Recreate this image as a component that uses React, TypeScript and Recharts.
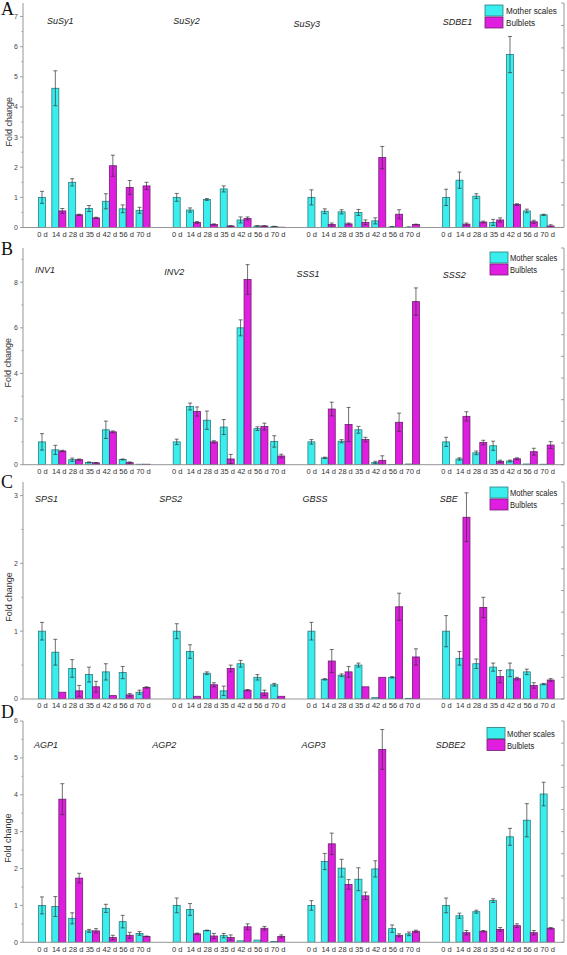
import React from 'react';
import { BarChart, Bar, XAxis, YAxis, ReferenceLine } from 'recharts';

// ---------------- DATA ----------------
const TIMES = ['0 d', '14 d', '28 d', '35 d', '42 d', '56 d', '70 d'];
const SERIES_NAMES = ['Mother scales', 'Bulblets'];

const A_GENES = ['SuSy1', 'SuSy2', 'SuSy3', 'SDBE1'];
const A_MOTHER = [
  [1.0, 4.62, 1.5, 0.63, 0.87, 0.62, 0.57],
  [1.0, 0.58, 0.93, 1.28, 0.25, 0.05, 0.03],
  [1.0, 0.54, 0.52, 0.5, 0.22, 0.02, 0.01],
  [1.0, 1.57, 1.04, 0.17, 5.74, 0.55, 0.42],
];
const A_MOTHER_ERR = [
  [0.2, 0.58, 0.12, 0.1, 0.25, 0.13, 0.1],
  [0.13, 0.07, 0.03, 0.1, 0.1, 0.01, 0.01],
  [0.25, 0.08, 0.07, 0.1, 0.1, 0.01, 0.01],
  [0.27, 0.27, 0.08, 0.1, 0.6, 0.06, 0.02],
];
const A_BULB = [
  [null, 0.55, 0.42, 0.32, 2.05, 1.33, 1.38],
  [null, 0.17, 0.1, 0.05, 0.3, 0.05, 0.01],
  [null, 0.1, 0.12, 0.17, 2.32, 0.44, 0.1],
  [null, 0.11, 0.18, 0.25, 0.76, 0.19, 0.05],
];
const A_BULB_ERR = [
  [0, 0.08, 0.02, 0.02, 0.35, 0.23, 0.12],
  [0, 0.03, 0.02, 0.01, 0.05, 0.01, 0],
  [0, 0.05, 0.03, 0.08, 0.37, 0.15, 0.01],
  [0, 0.04, 0.03, 0.07, 0.03, 0.05, 0.04],
];

const B_GENES = ['INV1', 'INV2', 'SSS1', 'SSS2'];
const B_MOTHER = [
  [1.0, 0.65, 0.22, 0.1, 1.53, 0.23, 0.02],
  [1.0, 2.55, 1.95, 1.65, 6.0, 1.58, 1.02],
  [1.0, 0.3, 1.03, 1.53, 0.1, 0.01, 0.03],
  [1.0, 0.25, 0.52, 0.83, 0.16, 0.03, 0.02],
];
const B_MOTHER_ERR = [
  [0.36, 0.2, 0.07, 0.02, 0.38, 0.02, 0],
  [0.12, 0.15, 0.4, 0.33, 0.35, 0.08, 0.25],
  [0.1, 0.03, 0.07, 0.15, 0.05, 0, 0],
  [0.2, 0.05, 0.08, 0.2, 0.04, 0, 0],
];
const B_BULB = [
  [null, 0.6, 0.22, 0.08, 1.44, 0.09, 0.02],
  [null, 2.33, 1.0, 0.25, 8.12, 1.67, 0.38],
  [null, 2.44, 1.76, 1.1, 0.19, 1.86, 7.15],
  [null, 2.12, 0.97, 0.15, 0.26, 0.57, 0.86],
];
const B_BULB_ERR = [
  [0, 0.03, 0.03, 0.01, 0.04, 0.03, 0],
  [0, 0.2, 0.05, 0.2, 0.65, 0.15, 0.08],
  [0, 0.3, 0.75, 0.1, 0.2, 0.4, 0.6],
  [0, 0.2, 0.1, 0.05, 0.04, 0.15, 0.15],
];

const C_GENES = ['SPS1', 'SPS2', 'GBSS', 'SBE'];
const C_MOTHER = [
  [1.0, 0.69, 0.45, 0.36, 0.4, 0.39, 0.1],
  [1.0, 0.7, 0.38, 0.12, 0.52, 0.32, 0.21],
  [1.0, 0.29, 0.35, 0.5, 0.02, 0.32, 0.01],
  [1.0, 0.6, 0.52, 0.47, 0.43, 0.4, 0.22],
];
const C_MOTHER_ERR = [
  [0.13, 0.19, 0.13, 0.11, 0.12, 0.09, 0.03],
  [0.11, 0.1, 0.02, 0.07, 0.05, 0.04, 0.02],
  [0.13, 0.01, 0.02, 0.03, 0, 0.01, 0],
  [0.23, 0.1, 0.07, 0.06, 0.1, 0.04, 0.01],
];
const C_BULB = [
  [null, 0.1, 0.12, 0.18, 0.05, 0.06, 0.17],
  [null, 0.04, 0.21, 0.45, 0.13, 0.09, 0.04],
  [null, 0.56, 0.4, 0.18, 0.32, 1.36, 0.62],
  [null, 2.68, 1.35, 0.33, 0.3, 0.2, 0.28],
];
const C_BULB_ERR = [
  [0, 0, 0.08, 0.08, 0, 0.02, 0.01],
  [0, 0, 0.03, 0.05, 0.01, 0.04, 0],
  [0, 0.17, 0.08, 0, 0, 0.2, 0.12],
  [0, 0.36, 0.15, 0.09, 0.02, 0.04, 0.02],
];

const D_GENES = ['AGP1', 'AGP2', 'AGP3', 'SDBE2'];
const D_MOTHER = [
  [1.0, 0.97, 0.65, 0.31, 0.92, 0.56, 0.24],
  [1.0, 0.89, 0.32, 0.18, 0.04, 0.06, 0.02],
  [1.0, 2.19, 2.01, 1.71, 1.99, 0.37, 0.23],
  [1.0, 0.72, 0.83, 1.13, 2.86, 3.31, 4.02],
];
const D_MOTHER_ERR = [
  [0.23, 0.27, 0.15, 0.04, 0.11, 0.17, 0.05],
  [0.2, 0.16, 0.01, 0.06, 0, 0, 0],
  [0.13, 0.22, 0.24, 0.31, 0.22, 0.1, 0.05],
  [0.2, 0.07, 0.04, 0.05, 0.23, 0.45, 0.32],
];
const D_BULB = [
  [null, 3.88, 1.74, 0.31, 0.13, 0.19, 0.16],
  [null, 0.23, 0.17, 0.13, 0.42, 0.38, 0.16],
  [null, 2.67, 1.57, 1.26, 5.23, 0.19, 0.3],
  [null, 0.26, 0.3, 0.35, 0.45, 0.26, 0.38],
];
const D_BULB_ERR = [
  [0, 0.42, 0.13, 0.06, 0.06, 0.08, 0.01],
  [0, 0.02, 0.07, 0.07, 0.08, 0.05, 0.04],
  [0, 0.29, 0.13, 0.1, 0.54, 0.04, 0.03],
  [0, 0.06, 0.02, 0.05, 0.05, 0.06, 0.02],
];

// ---------------- STYLE / LAYOUT ----------------
const W = 567;
const CYAN = '#3beeee';
const CYAN_STROKE = '#2a7c80';
const MAG = '#e01ee0';
const MAG_STROKE = '#6e1f6e';
const FRAME = '#8a8a8a';
const SANS = '"Liberation Sans", Arial, sans-serif';
const SERIF = '"Liberation Serif", "Times New Roman", serif';
const MARGIN_TOP = 3;
const XAXIS_H = 15;

type PanelCfg = {
  letter: string;
  genes: string[];
  mother: number[][];
  motherErr: number[][];
  bulb: (number | null)[][];
  bulbErr: number[][];
  frameTop: number;
  axisY: number;
  max: number;
  majors: number[];
  minors: number[];
  letterY: number;
  legend: { x: number; y: number; tx: number; sx: number };
  labelOff: [number, number][];
};

const PANELS: PanelCfg[] = [
  {
    letter: 'A', genes: A_GENES, mother: A_MOTHER, motherErr: A_MOTHER_ERR, bulb: A_BULB, bulbErr: A_BULB_ERR,
    frameTop: 3, axisY: 227.5, max: 7.45,
    majors: [0, 1, 2, 3, 4, 5, 6, 7], minors: [0.5, 1.5, 2.5, 3.5, 4.5, 5.5, 6.5],
    letterY: 15, legend: { x: 485, y: 5, tx: 506, sx: 0.86 },
    labelOff: [[4.6, 20.5], [-3.9, 21], [-18.3, 23.5], [-3.8, 21.5]],
  },
  {
    letter: 'B', genes: B_GENES, mother: B_MOTHER, motherErr: B_MOTHER_ERR, bulb: B_BULB, bulbErr: B_BULB_ERR,
    frameTop: 248.3, axisY: 465, max: 9.5,
    majors: [0, 2, 4, 6, 8], minors: [1, 3, 5, 7, 9],
    letterY: 255, legend: { x: 490, y: 252, tx: 510, sx: 0.8 },
    labelOff: [[-7.4, 25], [-12.9, 26.7], [-15.3, 28.7], [-3.8, 30]],
  },
  {
    letter: 'C', genes: C_GENES, mother: C_MOTHER, motherErr: C_MOTHER_ERR, bulb: C_BULB, bulbErr: C_BULB_ERR,
    frameTop: 482.3, axisY: 699.3, max: 3.2,
    majors: [0, 1, 2, 3], minors: [0.5, 1.5, 2.5],
    letterY: 488, legend: { x: 490, y: 487, tx: 510, sx: 0.8 },
    labelOff: [[-7.4, 20], [-17.9, 20], [-9.3, 20], [-6.8, 20]],
  },
  {
    letter: 'D', genes: D_GENES, mother: D_MOTHER, motherErr: D_MOTHER_ERR, bulb: D_BULB, bulbErr: D_BULB_ERR,
    frameTop: 720.7, axisY: 942, max: 6,
    majors: [0, 1, 2, 3, 4, 5, 6], minors: [0.5, 1.5, 2.5, 3.5, 4.5, 5.5],
    letterY: 718, legend: { x: 487, y: 727.5, tx: 507, sx: 0.81 },
    labelOff: [[-8.4, 27], [-24.9, 27], [-10.3, 27], [-10.8, 27]],
  },
];

function buildRows(p: PanelCfg) {
  const rows: any[] = [];
  p.genes.forEach((g, gi) => {
    TIMES.forEach((t, ti) => {
      rows.push({
        key: `${g}|${t}`,
        m: p.mother[gi][ti],
        me: p.motherErr[gi][ti],
        b: p.bulb[gi][ti],
        be: p.bulbErr[gi][ti],
      });
    });
    if (gi < p.genes.length - 1) rows.push({ key: `gap${gi}`, m: null, b: null, me: 0, be: 0 });
  });
  return rows;
}

function BarWithErr(props: any) {
  const { x, y, width, height, payload, fill, stroke, valKey, errKey, centerAlone } = props;
  if (!payload) return null;
  const v = payload[valKey];
  if (v == null || !Number.isFinite(height) || !Number.isFinite(y)) return null;
  const alone = centerAlone && payload.b == null;
  const bx = alone ? x + width / 2 : x;
  const e = payload[errKey] || 0;
  const k = v > 0 ? height / v : 0;
  const cx = bx + width / 2;
  const top = y - e * k;
  const bot = y + e * k;
  return (
    <g>
      <rect x={bx} y={y} width={width} height={Math.max(height, 0)} fill={fill} stroke={stroke} strokeWidth={0.8} />
      {e > 0 && k > 0 && (
        <g stroke="#333" strokeWidth={0.7}>
          <line x1={cx} x2={cx} y1={top} y2={bot} />
          <line x1={cx - 2} x2={cx + 2} y1={top} y2={top} />
          <line x1={cx - 2} x2={cx + 2} y1={bot} y2={bot} />
        </g>
      )}
    </g>
  );
}

const makeYTick = (majors: number[]) => (props: any) => {
  const { x, y, payload } = props;
  const v = payload.value;
  const isMajor = majors.some((m) => Math.abs(m - v) < 1e-6);
  const ax = x + 5;
  return (
    <g>
      <line x1={ax - (isMajor ? 3 : 1.6)} x2={ax} y1={y} y2={y} stroke={FRAME} strokeWidth={0.8} />
      {isMajor && (
        <text x={x} y={y} dy="0.35em" textAnchor="end" fontSize={7} fill="#444" fontFamily={SANS}>
          {v}
        </text>
      )}
    </g>
  );
};

function FoldLabel(props: any) {
  const vb = props.viewBox || {};
  const cx = vb.x + 0.5;
  const cy = vb.y + vb.height / 2 + 6.5;
  return (
    <text
      x={cx}
      y={cy}
      transform={`rotate(-90, ${cx}, ${cy})`}
      textAnchor="middle"
      dominantBaseline="central"
      fontSize={9}
      fill="#333"
      fontFamily={SANS}
    >
      Fold change
    </text>
  );
}

function GeneLabel(props: any) {
  const vb = props.viewBox || {};
  return (
    <text
      x={vb.x + props.dx0}
      y={vb.y + props.dy0}
      fontSize={9}
      fontStyle="italic"
      fill="#222"
      fontFamily={SANS}
    >
      {props.text}
    </text>
  );
}

function Panel({ p }: { p: PanelCfg }) {
  const rows = buildRows(p);
  const plotH = p.axisY - p.frameTop;
  const height = MARGIN_TOP + plotH + XAXIS_H;
  const ticks = [...p.majors, ...p.minors].sort((a, b) => a - b);
  const rightTicks = [0, 1, 2, 3, 4, 5, 6, 7, 8, 9, 10];
  return (
    <div style={{ position: 'absolute', left: 0, top: p.frameTop - MARGIN_TOP, width: W, height }}>
      <BarChart
        width={W}
        height={height}
        data={rows}
        margin={{ top: MARGIN_TOP, right: 3, left: 8, bottom: 0 }}
        barGap={0}
        barSize={7}
      >
        <XAxis
          dataKey="key"
          type="category"
          interval={0}
          height={XAXIS_H}
          padding={{ left: 11, right: 8 }}
          tickLine={false}
          tickSize={0}
          tickMargin={4}
          axisLine={{ stroke: FRAME, strokeWidth: 0.9 }}
          tick={{ fontSize: 7.5, fill: '#333', fontFamily: SANS }}
          tickFormatter={(k: string) => (k.includes('|') ? k.split('|')[1] : '')}
        />
        <XAxis
          xAxisId="t"
          dataKey="key"
          orientation="top"
          height={0}
          padding={{ left: 11, right: 8 }}
          tick={false}
          tickLine={false}
          axisLine={{ stroke: FRAME, strokeWidth: 0.9 }}
        />
        <YAxis
          domain={[0, p.max]}
          ticks={ticks}
          interval={0}
          allowDataOverflow
          width={15}
          tickSize={3}
          tickMargin={2}
          tickLine={false}
          axisLine={{ stroke: FRAME, strokeWidth: 0.9 }}
          tick={makeYTick(p.majors)}
          label={<FoldLabel />}
        />
        <YAxis
          yAxisId="r"
          orientation="right"
          domain={[0, 10]}
          ticks={rightTicks}
          interval={0}
          allowDataOverflow
          width={1}
          mirror
          tickSize={3}
          tickLine={{ stroke: FRAME, strokeWidth: 0.8 }}
          axisLine={{ stroke: FRAME, strokeWidth: 0.9 }}
          tickFormatter={() => ''}
        />
        {p.genes.map((g, gi) => (
          <ReferenceLine
            key={g}
            x={`${g}|0 d`}
            strokeOpacity={0}
            label={<GeneLabel text={g} dx0={p.labelOff[gi][0]} dy0={p.labelOff[gi][1]} />}
          />
        ))}
        <Bar
          dataKey="m"
          name={SERIES_NAMES[0]}
          fill={CYAN}
          stroke={CYAN_STROKE}
          isAnimationActive={false}
          shape={(sp: any) => <BarWithErr {...sp} valKey="m" errKey="me" centerAlone />}
        />
        <Bar
          dataKey="b"
          name={SERIES_NAMES[1]}
          fill={MAG}
          stroke={MAG_STROKE}
          isAnimationActive={false}
          shape={(sp: any) => <BarWithErr {...sp} valKey="b" errKey="be" />}
        />
      </BarChart>
    </div>
  );
}

function Overlay() {
  const colors = [
    [CYAN, CYAN_STROKE],
    [MAG, MAG_STROKE],
  ];
  return (
    <svg width={W} height={955} style={{ position: 'absolute', left: 0, top: 0, pointerEvents: 'none' }}>
      {PANELS.map((p) => (
        <g key={p.letter}>
          <text x={1} y={p.letterY} fontSize={18} fontFamily={SERIF} fill="#111">
            {p.letter}
          </text>
          {SERIES_NAMES.map((n, i) => (
            <g key={n}>
              <rect
                x={p.legend.x}
                y={p.legend.y + i * 12}
                width={18}
                height={11}
                fill={colors[i][0]}
                stroke={colors[i][1]}
                strokeWidth={0.8}
              />
              <text
                transform={`translate(${p.legend.tx}, ${p.legend.y + i * 12 + 9.3}) scale(${p.legend.sx}, 1)`}
                x={0}
                y={0}
                fontSize={9.5}
                fontFamily={SANS}
                fill="#222"
              >
                {n}
              </text>
            </g>
          ))}
        </g>
      ))}
    </svg>
  );
}

export default function App() {
  return (
    <div
      style={{
        position: 'absolute',
        left: 0,
        top: 0,
        width: W,
        height: 955,
        overflow: 'hidden',
        background: '#fff',
      }}
    >
      {PANELS.map((p) => (
        <Panel key={p.letter} p={p} />
      ))}
      <Overlay />
    </div>
  );
}
